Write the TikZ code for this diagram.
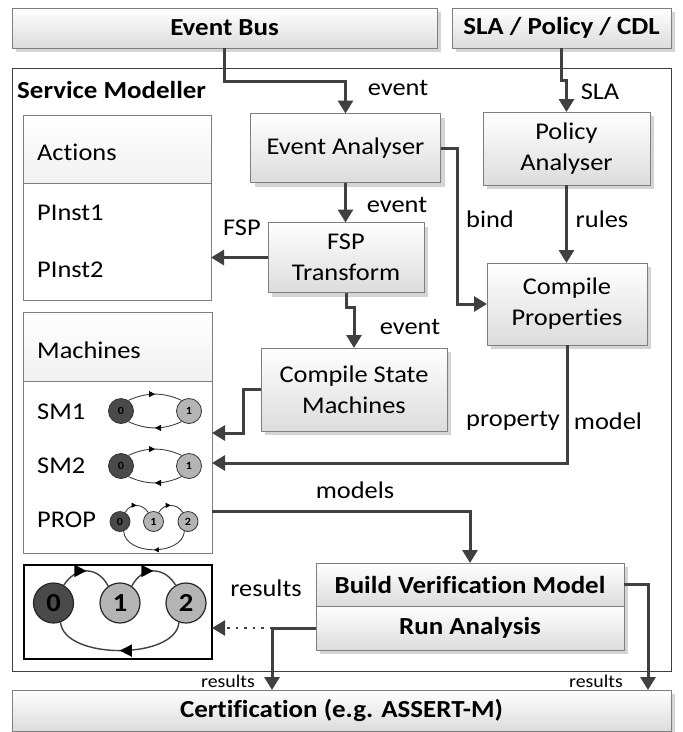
\documentclass[tikz,border=0pt]{standalone}
\usepackage{fontspec}
\setmainfont[FakeStretch=1.1, Ligatures=NoCommon]{Carlito}
\usetikzlibrary{arrows.meta,shadows,decorations.markings}

\definecolor{flowc}{HTML}{404040}
\definecolor{boxline}{HTML}{7F7F7F}
\definecolor{boxbot}{HTML}{DCDCDC}
\definecolor{shadowc}{HTML}{D4D4D4}
\definecolor{stdark}{HTML}{4A4A4A}
\definecolor{stlight}{HTML}{B4B4B4}

\newcommand\fmain{\fontsize{24}{31}\selectfont}
\newcommand\fbold{\fontsize{24.5}{28}\selectfont\bfseries}
\newcommand\fsmall{\fontsize{18}{20}\selectfont}

\begin{document}
\begin{tikzpicture}[x=1pt,y=-1pt,
  box/.style={draw=boxline, line width=1pt, top color=white, bottom color=boxbot,
    inner sep=0pt, outer sep=0pt, align=center, font=\fmain,
    drop shadow={shadow xshift=4pt, shadow yshift=-4pt, fill=shadowc, opacity=1}},
  boldbox/.style={box, font=\fbold},
  header/.style={draw=boxline, line width=1pt, top color=white, bottom color=boxbot!40,
    inner sep=0pt, outer sep=0pt, anchor=north west},
  panel/.style={draw=boxline, line width=1pt, fill=white, inner sep=0pt, outer sep=0pt,
    anchor=north west},
  flow/.style={draw=flowc, line width=3pt, -{Triangle[length=13pt,width=15pt]}},
  lab/.style={font=\fmain, inner sep=0pt},
  smalllab/.style={font=\fsmall, inner sep=0pt},
  itemlab/.style={font=\fmain, inner sep=0pt, anchor=west},
  midarrow/.style={postaction={decorate}, decoration={markings,
    mark=at position 0.5 with {\arrow[black]{Triangle[length=#1,width=#1]}}}},
  arc/.style={draw=flowc, line width=0.9pt},
  bigarc/.style={draw=flowc, line width=1.4pt},
  st/.style={circle, draw=black!80, line width=0.8pt, inner sep=0pt,
    font=\fontsize{11}{11}\selectfont\bfseries},
  bigst/.style={circle, draw=black!85, line width=1.2pt, inner sep=0pt,
    minimum size=40pt, font=\fontsize{26}{26}\selectfont\bfseries},
]
\useasboundingbox (0,0) rectangle (683,732);

% ---- external sources ----
\node[boldbox, minimum width=425, minimum height=40] (bus) at (224.5,28) {Event Bus};
\node[boldbox, minimum width=219, minimum height=40] (sla) at (561.5,28) {SLA / Policy / CDL};

% ---- service modeller frame ----
\node[draw=black!75, line width=1pt, inner sep=0pt, outer sep=0pt, anchor=north west,
      minimum width=659, minimum height=603] (sm) at (12,68) {};
\node[font=\fbold, anchor=west, inner sep=0pt] (smlab) at (17,90) {Service Modeller};

% ---- processing steps ----
\node[box, minimum width=190, minimum height=69] (ea) at (345.5,148) {Event Analyser};
\node[box, minimum width=167, minimum height=73] (pa) at (566.5,148.5) {Policy\\Analyser};
\node[box, minimum width=156, minimum height=70] (fsp) at (346,257.5) {FSP\\Transform};
\node[box, minimum width=160, minimum height=82] (cp) at (567,304) {Compile\\Properties};
\node[box, minimum width=186, minimum height=83] (csm) at (354,389.5) {Compile State\\Machines};
\node[boldbox, minimum width=308, minimum height=43] (bvm) at (470,584.5) {Build Verification Model};
\node[boldbox, minimum width=308, minimum height=44] (ra) at (470,628) {Run Analysis};

% ---- actions panel ----
\node[header, minimum width=188, minimum height=68] (acth) at (23,115) {};
\node[panel, minimum width=188, minimum height=117] (actb) at (23,183) {};
\node[itemlab] (acttitle) at (37,152) {Actions};
\node[itemlab] (pinst1) at (37,213) {PInst1};
\node[itemlab] (pinst2) at (37,270) {PInst2};

% ---- machines panel ----
\node[header, minimum width=189, minimum height=69] (mach) at (23,312) {};
\node[panel, minimum width=189, minimum height=172] (machb) at (23,381) {};
\node[itemlab] (machtitle) at (37,350) {Machines};
\node[itemlab] (sm1lab) at (37,412) {SM1};
\node[itemlab] (sm2lab) at (37,466) {SM2};
\node[itemlab] (proplab) at (37,520) {PROP};

% SM1
\node[st, fill=stdark, minimum size=25pt] (a0) at (121,411) {0};
\node[st, fill=stlight, minimum size=25pt] (a1) at (189,411) {1};
\draw[arc, midarrow=6pt] (a0.55) .. controls (146,392) and (164,392) .. (a1.125);
\draw[arc, midarrow=6pt] (a1.-125) .. controls (164,430) and (146,430) .. (a0.-55);
% SM2
\node[st, fill=stdark, minimum size=25pt] (b0) at (121,466) {0};
\node[st, fill=stlight, minimum size=25pt] (b1) at (189,466) {1};
\draw[arc, midarrow=6pt] (b0.55) .. controls (146,447) and (164,447) .. (b1.125);
\draw[arc, midarrow=6pt] (b1.-125) .. controls (164,485) and (146,485) .. (b0.-55);
% PROP
\node[st, fill=stdark, minimum size=20pt] (c0) at (120,521.5) {0};
\node[st, fill=stlight, minimum size=20pt] (c1) at (153.5,521.5) {1};
\node[st, fill=stlight, minimum size=20pt] (c2) at (188,521.5) {2};
\draw[arc, midarrow=5pt] (c0.60) .. controls (130,503) and (142,503) .. (c1.120);
\draw[arc, midarrow=5pt] (c1.60) .. controls (164,503) and (177,503) .. (c2.120);
\draw[arc, midarrow=5pt] (c2.-110) .. controls (182,556) and (126,556) .. (c0.-70);

% ---- result state machine ----
\node[draw=black, line width=2.5pt, inner sep=0pt, outer sep=0pt, anchor=north west,
      minimum width=188, minimum height=94] (res) at (24,565) {};
\node[bigst, fill=stdark] (r0) at (53.5,603) {0};
\node[bigst, fill=stlight] (r1) at (120,603) {1};
\node[bigst, fill=stlight] (r2) at (186,603) {2};
\draw[bigarc, midarrow=12pt] (r0.60) .. controls (76,566) and (98,566) .. (r1.125);
\draw[bigarc, midarrow=12pt] (r1.55) .. controls (142,566) and (164,566) .. (r2.120);
\draw[bigarc, midarrow=12pt] (r2.-110) .. controls (176,660) and (64,660) .. (r0.-70);

% ---- certification ----
\node[boldbox, minimum width=659, minimum height=41] (cert) at (341.5,710.5) {Certification (e.g. ASSERT-M)};

% ---- connectors ----
\draw[flow] (bus.south) -- ++(0,33.5) -| (ea.north);
\draw[flow] (sla.south) -- ++(0,32) -| (pa.north);
\draw[flow] (ea.south) -- (ea.south |- fsp.north);
\draw[flow] (ea.east) -- ++(17,0) |- (cp.west);
\draw[flow] (pa.south) -- (pa.south |- cp.north);
\draw[flow] (fsp.west) -- (fsp.west -| actb.east);
\draw[flow] (fsp.south) -- ++(0,15) -| (csm.north);
\draw[flow] (csm.west) -- ++(-18,0) |- ([yshift=34pt]machb.east);
\draw[flow] (cp.south) |- ([yshift=4pt]machb.east);
\draw[flow] ([yshift=-44pt]machb.east) -| (bvm.north);
\draw[flow] (bvm.east) -- ++(24,0) coordinate (bvturn) -- (bvturn |- cert.north);
\draw[draw=flowc, line width=3pt] (ra.west) -- ++(-44,0) coordinate (raturn);
\draw[flow] (raturn) -- (raturn |- cert.north);
\draw[draw=flowc, line width=2.5pt, dash pattern=on 2.5pt off 6pt,
      -{Triangle[length=13pt,width=15pt]}] (raturn) -- (raturn -| res.east);

% ---- connector labels ----
\node[lab] (lev1) at (398,88) {event};
\node[lab] (lsla) at (600,92) {SLA};
\node[lab] (lev2) at (397,205) {event};
\node[lab] (lbind) at (490,219) {bind};
\node[lab] (lrules) at (602,219) {rules};
\node[lab] (lfsp) at (242,228) {FSP};
\node[lab] (lev3) at (410,327) {event};
\node[lab] (lprop) at (513,421) {property};
\node[lab] (lmodel) at (608,421) {model};
\node[lab] (lmodels) at (355,490) {models};
\node[lab] (lres) at (266,588) {results};
\node[smalllab] (lres1) at (228,681) {results};
\node[smalllab] (lres2) at (596,681) {results};
\end{tikzpicture}
\end{document}
